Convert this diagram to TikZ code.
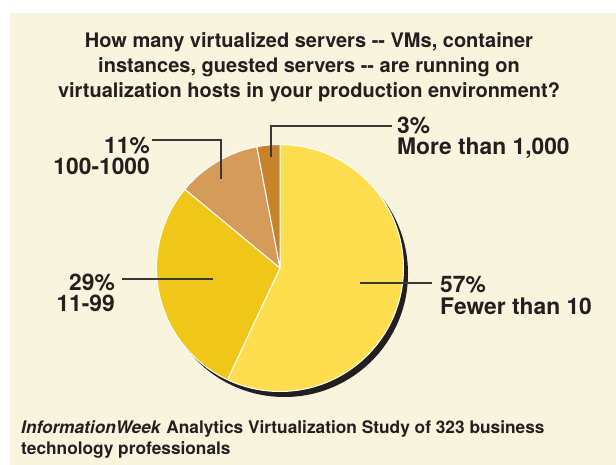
\documentclass[tikz,border=0pt]{standalone}
\usepackage{fontspec}
\setmainfont{TeX Gyre Heros}
\definecolor{cream}{HTML}{F9F4DD}
\definecolor{inkc}{HTML}{231F20}
\definecolor{shadowc}{HTML}{231F20}
\definecolor{leaderc}{HTML}{3A3835}
\definecolor{sliceA}{HTML}{FEDE4F}
\definecolor{sliceB}{HTML}{F0C619}
\definecolor{sliceC}{HTML}{D59B5A}
\definecolor{sliceD}{HTML}{C8832A}
\begin{document}
\begin{tikzpicture}[x=1pt,y=-1pt,
  titletext/.style={inner sep=0pt, text=inkc, align=center,
    font=\fontsize{20}{25}\selectfont\bfseries},
  lbl/.style={inner sep=0pt, text=inkc,
    font=\fontsize{22.8}{21.5}\selectfont\bfseries},
  foot/.style={inner sep=0pt, text=inkc, align=left,
    font=\fontsize{17.3}{21}\selectfont\bfseries},
  wedge/.style={draw=white, line width=1pt, line join=round},
  leader/.style={draw=leaderc, line width=1.3pt}]
\useasboundingbox (0,0) rectangle (616,465);
\fill[white] (0,0) rectangle (616,465);
\fill[cream] (10,13) rectangle (616,465);

% question (base anchor sits on the last line)
\node[titletext, anchor=base] (title) at (309,98)
  {How many virtualized servers -{}- VMs, container\\
   instances, guested servers -{}- are running on\\
   virtualization hosts in your production environment?};

% pie with drop shadow
\begin{scope}[shift={(280,268)}, x=1pt, y=1pt]
  \fill[shadowc] (4.5,-5.5) circle (123.5);
  \filldraw[wedge, fill=sliceA] (0,0) -- (90:123.5)
    arc[start angle=90, end angle=-115.2, radius=123.5] -- cycle;
  \filldraw[wedge, fill=sliceB] (0,0) -- (244.8:123.5)
    arc[start angle=244.8, end angle=140.4, radius=123.5] -- cycle;
  \filldraw[wedge, fill=sliceC] (0,0) -- (140.4:123.5)
    arc[start angle=140.4, end angle=100.8, radius=123.5] -- cycle;
  \filldraw[wedge, fill=sliceD] (0,0) -- (100.8:123.5)
    arc[start angle=100.8, end angle=90, radius=123.5] -- cycle;
\end{scope}

% labels
\node[lbl, anchor=base west, align=left] (l57) at (440,314) {57\%\\Fewer than 10};
\node[lbl, anchor=base west, align=left] (l3) at (397,155) {3\%\\More than 1,000};
\node[lbl, anchor=base east, align=right] (l11) at (150,175) {11\%\\100-1000};
\node[lbl, anchor=base east, align=right] (l29) at (115,312) {29\%\\11-99};

% leader lines
\coordinate (a57) at (360,283); \coordinate (b57) at (432,283);
\coordinate (a29) at (213,279); \coordinate (b29) at (122,279);
\coordinate (a11) at (221,179); \coordinate (b11) at (152,140);
\coordinate (a3) at (271,157);  \coordinate (b3) at (392,126);
\draw[leader] (a57) -- (b57);
\draw[leader] (a29) -- (b29);
\draw[leader] (a11) |- (b11);
\draw[leader] (a3) |- (b3);

% source
\node[foot, anchor=base west] (src) at (21,454)
  {\textit{InformationWeek} Analytics Virtualization Study of 323 business\\
   technology professionals};
\end{tikzpicture}
\end{document}
